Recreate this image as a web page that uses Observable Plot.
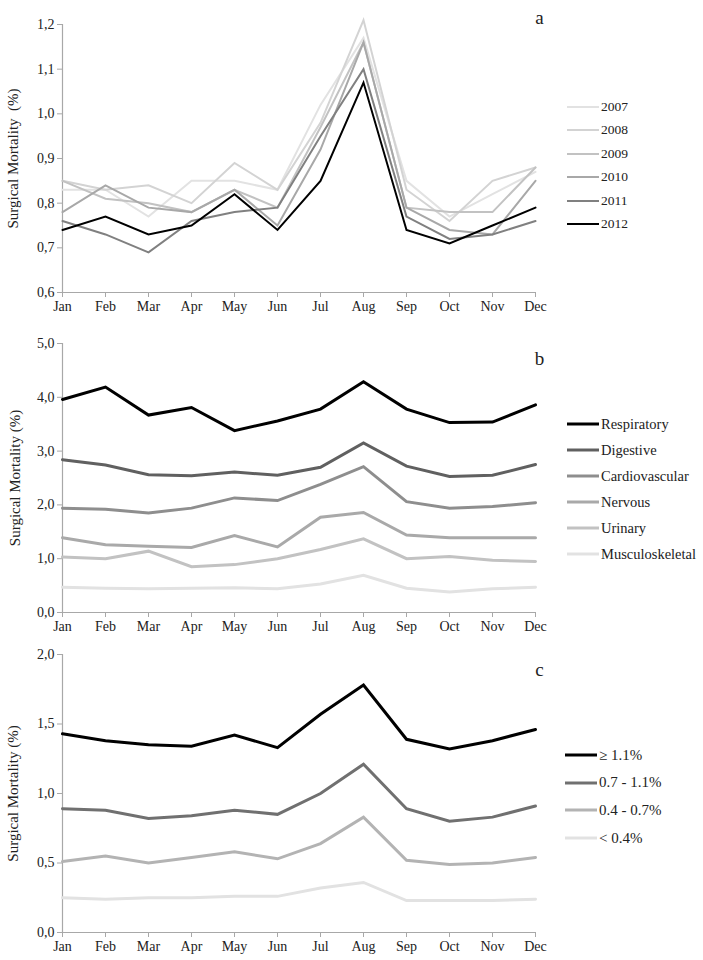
<!DOCTYPE html>
<html>
<head>
<meta charset="utf-8">
<script src="https://cdn.jsdelivr.net/npm/d3@7"></script>
<script src="https://cdn.jsdelivr.net/npm/@observablehq/plot@0.6"></script>
<style>
  html, body { margin: 0; padding: 0; background: #fff; }
  #wrap { position: relative; width: 703px; height: 960px; font-family: "Liberation Serif", "DejaVu Serif", serif; }
  .panel { position: absolute; left: 0; font-family: "Liberation Serif", serif; }
  .panel text { font-size: 14px; }
  .panel g[aria-label="y-axis label"] text { font-size: 15px; }
  .panel g[aria-label="text"] text { font-size: 19px; }
  .legend { position: absolute; color: #222; }
  .legend .item { position: absolute; left: 0; white-space: nowrap; display: flex; align-items: center; height: 18px; }
  .legend svg { display: block; margin-right: 2px; }
</style>
</head>
<body>
<div id="wrap"></div>
<script>
// ---------- data ----------
const months = ["Jan","Feb","Mar","Apr","May","Jun","Jul","Aug","Sep","Oct","Nov","Dec"];

// Panel a: surgical mortality by year (%)
const yearsA = ["2007","2008","2009","2010","2011","2012"];
const y2007 = [0.83,0.83,0.77,0.85,0.85,0.83,1.02,1.17,0.85,0.77,0.82,0.87];
const y2008 = [0.85,0.83,0.84,0.80,0.89,0.83,0.98,1.21,0.83,0.76,0.85,0.88];
const y2009 = [0.85,0.81,0.80,0.78,0.83,0.79,0.97,1.16,0.79,0.78,0.78,0.88];
const y2010 = [0.78,0.84,0.79,0.78,0.83,0.75,0.92,1.16,0.79,0.74,0.73,0.85];
const y2011 = [0.76,0.73,0.69,0.76,0.78,0.79,0.95,1.10,0.77,0.72,0.73,0.76];
const y2012 = [0.74,0.77,0.73,0.75,0.82,0.74,0.85,1.07,0.74,0.71,0.75,0.79];
const colorsA = ["#e2e2e2","#d3d3d3","#c2c2c2","#a8a8a8","#808080","#000000"];
const ticksA = [0.6,0.7,0.8,0.9,1.0,1.1,1.2];

// Panel b: by system
const seriesB = ["Respiratory","Digestive","Cardiovascular","Nervous","Urinary","Musculoskeletal"];
const respiratory     = [3.96,4.19,3.67,3.81,3.38,3.56,3.78,4.29,3.78,3.53,3.54,3.86];
const digestive       = [2.84,2.74,2.56,2.54,2.61,2.55,2.70,3.15,2.72,2.53,2.55,2.75];
const cardiovascular  = [1.94,1.92,1.85,1.94,2.13,2.08,2.38,2.71,2.06,1.94,1.97,2.04];
const nervous         = [1.39,1.26,1.23,1.21,1.43,1.22,1.77,1.86,1.44,1.39,1.39,1.39];
const urinary         = [1.03,1.00,1.14,0.85,0.89,1.00,1.17,1.37,1.00,1.04,0.97,0.95];
const musculoskeletal = [0.47,0.45,0.44,0.45,0.46,0.44,0.53,0.69,0.45,0.38,0.44,0.47];
const colorsB = ["#000000","#606060","#8e8e8e","#a9a9a9","#c2c2c2","#e2e2e2"];
const ticksB = [0,1,2,3,4,5];

// Panel c: by risk group
const seriesC = ["\u2265 1.1%","0.7 - 1.1%","0.4 - 0.7%","< 0.4%"];
const riskHigh  = [1.43,1.38,1.35,1.34,1.42,1.33,1.57,1.78,1.39,1.32,1.38,1.46];
const riskMid   = [0.89,0.88,0.82,0.84,0.88,0.85,1.00,1.21,0.89,0.80,0.83,0.91];
const riskLow   = [0.51,0.55,0.50,0.54,0.58,0.53,0.64,0.83,0.52,0.49,0.50,0.54];
const riskVLow  = [0.25,0.24,0.25,0.25,0.26,0.26,0.32,0.36,0.23,0.23,0.23,0.24];
const colorsC = ["#000000","#707070","#b3b3b3","#e2e2e2"];
const ticksC = [0,0.5,1.0,1.5,2.0];

// ---------- build ----------
function tidy(names, arrays) {
  const out = [];
  names.forEach((n, i) => arrays[i].forEach((v, j) => out.push({series: n, month: months[j], value: v})));
  return out;
}
const fmt = d => d.toFixed(1).replace(".", ",");

function panel(o) {
  return Plot.plot({
    width: 703, height: o.height,
    marginLeft: 62, marginRight: 168, marginTop: o.marginTop, marginBottom: o.marginBottom,
    style: {fontFamily: "'Liberation Serif', serif", fontSize: "14px", color: "#222", background: "white"},
    x: {type: "point", domain: months, padding: 0},
    y: {domain: o.domain},
    color: {domain: o.names, range: o.colors},
    marks: [
      Plot.ruleX([months[0]], {stroke: "#a8a8a8", strokeWidth: 1.2}),
      Plot.ruleY([o.domain[0]], {stroke: "#a8a8a8", strokeWidth: 1.2}),
      Plot.axisX({tickSize: 5, tickPadding: 4, stroke: "#a8a8a8", fill: "#222", label: null}),
      Plot.axisY({ticks: o.ticks, tickFormat: fmt, tickSize: 5, tickPadding: 3, stroke: "#a8a8a8", fill: "#222",
                  label: o.label, labelAnchor: "center", labelOffset: o.labelOffset, labelArrow: "none"}),
      Plot.line(o.data, {x: "month", y: "value", z: "series", stroke: "series", strokeWidth: o.strokeWidth, strokeLinejoin: "miter", strokeMiterlimit: 4}),
      Plot.text([o.letter], {frameAnchor: "top-right", dx: 4, dy: o.letterDy, textAnchor: "middle", fill: "#222"})
    ]
  });
}

function legend(names, colors, left, top, step, sw, fs) {
  const div = document.createElement("div");
  div.className = "legend";
  div.style.left = left + "px";
  div.style.top = top + "px";
  div.style.fontSize = fs + "px";
  names.forEach((n, i) => {
    const it = document.createElement("div");
    it.className = "item";
    it.style.top = (i * step - 9) + "px";
    it.innerHTML = `<svg width="32" height="6"><line x1="0" x2="32" y1="3" y2="3" stroke="${colors[i]}" stroke-width="${sw}"/></svg><span>${n}</span>`;
    div.appendChild(it);
  });
  return div;
}

const wrap = document.getElementById("wrap");

const pa = panel({
  data: tidy(yearsA, [y2007,y2008,y2009,y2010,y2011,y2012]), names: yearsA, colors: colorsA,
  domain: [0.6, 1.2], ticks: ticksA, height: 317, marginTop: 24, marginBottom: 25,
  strokeWidth: 2, letter: "a", letterDy: -14, label: "Surgical Mortality  (%)", labelOffset: 55
});
pa.classList.add("panel"); pa.style.top = "0px"; wrap.appendChild(pa);

const pb = panel({
  data: tidy(seriesB, [respiratory,digestive,cardiovascular,nervous,urinary,musculoskeletal]), names: seriesB, colors: colorsB,
  domain: [0, 5], ticks: ticksB, height: 320, marginTop: 26, marginBottom: 25,
  strokeWidth: 3, letter: "b", letterDy: 8, label: "Surgical Mortality (%)", labelOffset: 53
});
pb.classList.add("panel"); pb.style.top = "317px"; wrap.appendChild(pb);

const pc = panel({
  data: tidy(seriesC, [riskHigh,riskMid,riskLow,riskVLow]), names: seriesC, colors: colorsC,
  domain: [0, 2], ticks: ticksC, height: 323, marginTop: 17, marginBottom: 28,
  strokeWidth: 3, letter: "c", letterDy: 8, label: "Surgical Mortality (%)", labelOffset: 55
});
pc.classList.add("panel"); pc.style.top = "637px"; wrap.appendChild(pc);

wrap.appendChild(legend(yearsA, colorsA, 567, 107, 23.4, 2, 13.5));
wrap.appendChild(legend(seriesB, colorsB, 567, 424, 26, 3, 14.5));
wrap.appendChild(legend(seriesC, colorsC, 565, 755, 27.7, 3, 15));
</script>
</body>
</html>
